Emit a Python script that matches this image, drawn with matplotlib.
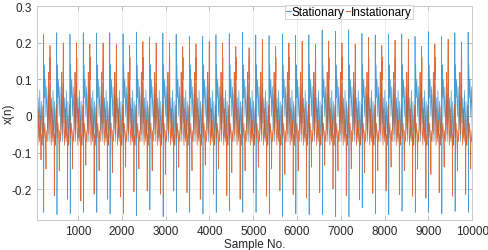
import numpy as np
import matplotlib.pyplot as plt

plt.rcParams['font.family'] = ['Liberation Sans', 'DejaVu Sans']
plt.rcParams['axes.unicode_minus'] = False

# cycle layout (samples)
period = 303
blue_start = -97
orange_start = -247

# one cycle of the stationary signal: offset in samples, value
blue_off = [0, 3, 6, 9, 13, 18, 30, 45, 60, 78, 96, 114, 132, 150, 168, 186,
            204, 222, 240, 258, 276, 292]
blue_shape = [0.03, 0.225, 0.05, -0.27, -0.04, 0.14, 0.05, 0.10, 0.0, 0.08,
              -0.04, 0.06, -0.07, 0.09, -0.02, 0.05, -0.06, 0.07, -0.05, 0.04,
              -0.08, 0.02]
blue_peak_i, blue_trough_i = 1, 3

# one cycle of the instationary signal
orange_off = [0, 3, 6, 12, 28, 46, 64, 82, 95, 98, 104, 124, 144, 164, 184,
              204, 212, 218, 238, 258, 268, 278, 294]
orange_shape = [0.195, 0.10, 0.16, -0.03, -0.08, 0.02, -0.07, -0.01, -0.09,
                -0.22, -0.05, -0.08, 0.03, -0.06, -0.02, -0.08, -0.145, -0.04,
                -0.07, 0.01, 0.12, -0.05, 0.06]
orange_peak_i, orange_deep_i, orange_shallow_i = 0, 9, 16

# per-cycle extremes
blue_peaks = [0.215, 0.223, 0.228, 0.224, 0.228, 0.227, 0.228, 0.225, 0.230,
              0.216, 0.227, 0.224, 0.218, 0.219, 0.223, 0.226, 0.230, 0.222,
              0.220, 0.225, 0.221, 0.222, 0.235, 0.232, 0.236, 0.226, 0.222,
              0.224, 0.224, 0.218, 0.231, 0.217, 0.228, 0.230, 0.220]
blue_troughs = [-0.250, -0.264, -0.270, -0.267, -0.264, -0.264, -0.268, -0.267,
                -0.273, -0.257, -0.276, -0.264, -0.264, -0.268, -0.264, -0.260,
                -0.264, -0.264, -0.268, -0.276, -0.268, -0.270, -0.270, -0.276,
                -0.276, -0.252, -0.268, -0.270, -0.261, -0.264, -0.264, -0.268,
                -0.261, -0.264, -0.260]
orange_peaks = [0.190, 0.196, 0.193, 0.200, 0.200, 0.197, 0.200, 0.197, 0.193,
                0.204, 0.200, 0.200, 0.190, 0.198, 0.204, 0.200, 0.190, 0.187,
                0.210, 0.190, 0.200, 0.205, 0.197, 0.205, 0.200, 0.197, 0.215,
                0.193, 0.208, 0.210, 0.190, 0.197, 0.210, 0.203, 0.200]
orange_deep = [-0.200, -0.120, -0.218, -0.228, -0.233, -0.214, -0.228, -0.222,
               -0.208, -0.205, -0.214, -0.205, -0.210, -0.228, -0.214, -0.218,
               -0.228, -0.210, -0.220, -0.205, -0.215, -0.225, -0.210, -0.200,
               -0.218, -0.230, -0.212, -0.205, -0.215, -0.220, -0.225, -0.210,
               -0.220, -0.215, -0.200]
orange_shallow = [-0.140, -0.145, -0.150, -0.145, -0.135, -0.150, -0.155, -0.140,
                  -0.145, -0.150, -0.160, -0.140, -0.150, -0.135, -0.145, -0.155,
                  -0.150, -0.140, -0.145, -0.160, -0.150, -0.140, -0.135, -0.150,
                  -0.145, -0.155, -0.150, -0.140, -0.150, -0.145, -0.160, -0.140,
                  -0.150, -0.145, -0.140]


def build(start, offs, shape, fixes):
    xs, ys = [], []
    for k in range(len(fixes[0][1])):
        vals = list(shape)
        for idx, arr in fixes:
            vals[idx] = arr[k]
        xs.extend(start + period * k + np.array(offs))
        ys.extend(vals)
    xs, ys = np.array(xs), np.array(ys)
    keep = (xs >= 1) & (xs <= 10000)
    return xs[keep], ys[keep]


xb, yb = build(blue_start, blue_off, blue_shape,
               [(blue_peak_i, blue_peaks), (blue_trough_i, blue_troughs)])
xo, yo = build(orange_start, orange_off, orange_shape,
               [(orange_peak_i, orange_peaks), (orange_deep_i, orange_deep),
                (orange_shallow_i, orange_shallow)])

fig = plt.figure(figsize=(4.88, 2.51), dpi=100)
ax = fig.add_axes([0.0752, 0.1207, 0.8926, 0.8526])

ax.plot(xb, yb, color='#0072BD', lw=0.5, alpha=0.7, label='Stationary')
ax.plot(xo, yo, color='#D95319', lw=0.55, alpha=0.85, label='Instationary')

ax.set_xlim(55, 10000)
ax.set_ylim(-0.284, 0.302)
ax.set_xticks(np.arange(1000, 10001, 1000))
ax.set_yticks([-0.2, -0.1, 0, 0.1, 0.2, 0.3])
ax.set_yticklabels(['-0.2', '-0.1', '0', '0.1', '0.2', '0.3'])
ax.tick_params(direction='in', length=3, width=0.6, colors='#b0b0b0',
               labelcolor='#262626', labelsize=8.5, top=True, right=True)
for s in ax.spines.values():
    s.set_color('#c8c8c8')
    s.set_linewidth(0.7)
ax.grid(True, color='#e6e6e6', lw=0.6)
ax.set_axisbelow(True)

ax.set_xlabel('Sample No.', fontsize=8.5, color='#262626', labelpad=1)
ax.set_ylabel('x(n)', fontsize=8.5, color='#262626')
ax.yaxis.set_label_coords(-0.049, 0.5)

leg = ax.legend(ncol=2, loc='upper left', bbox_to_anchor=(0.584, 0.977),
                bbox_transform=fig.transFigure, fontsize=8.5, frameon=True,
                fancybox=False, handlelength=0.4, handletextpad=0.05,
                columnspacing=0.1, borderpad=0.1, borderaxespad=0)
leg.get_frame().set_edgecolor('#c8c8c8')
leg.get_frame().set_linewidth(0.7)
for h in leg.get_lines():
    h.set_linewidth(0.8)

plt.savefig('out.png', dpi=100)
